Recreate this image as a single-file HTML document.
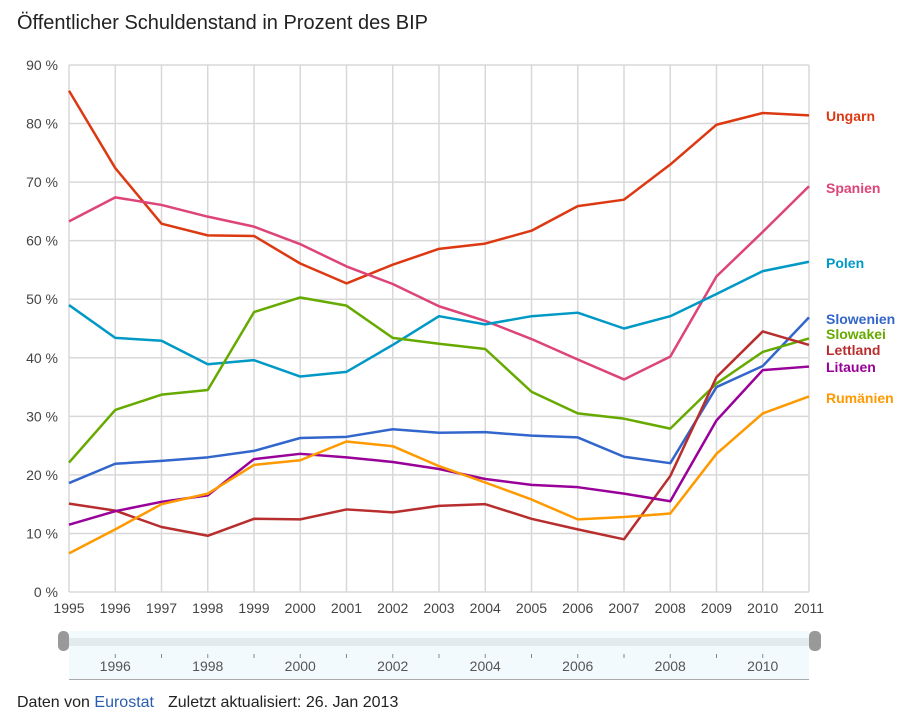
<!DOCTYPE html>
<html><head><meta charset="utf-8"><style>
body{margin:0;background:#fff;font-family:"Liberation Sans",sans-serif;}
#wrap{position:relative;width:906px;height:716px;}
</style></head><body>
<div id="wrap">
<svg id="chart" width="906" height="716" style="position:absolute;left:0;top:0">
<text x="17" y="29" font-size="20" fill="#222">Öffentlicher Schuldenstand in Prozent des BIP</text>
<g id="grid"></g><g id="lines"></g><g id="labels"></g>
<g>
<rect x="69" y="631" width="740" height="48" fill="#f3fafd"/>
<rect x="69" y="638" width="740" height="8" fill="#e2eaee"/>
<line x1="69" y1="679.5" x2="809" y2="679.5" stroke="#aaa"/>
<rect x="58" y="631" width="11" height="20" rx="5" fill="#999"/>
<rect x="809" y="631" width="12" height="20" rx="5" fill="#999"/>
<g id="slider-ticks"></g>
</g>
<text x="17" y="707" font-size="16" fill="#222">Daten von <tspan fill="#2a5db0">Eurostat</tspan><tspan dx="14">Zuletzt aktualisiert: 26. Jan 2013</tspan></text>
</svg>
</div>
<script>
const years=[1995,1996,1997,1998,1999,2000,2001,2002,2003,2004,2005,2006,2007,2008,2009,2010,2011];
const yTicks=[0,10,20,30,40,50,60,70,80,90];
const seriesNames=["Ungarn","Spanien","Polen","Slowenien","Slowakei","Lettland","Litauen","Rumänien"];
const ungarn=[85.6,72.4,62.9,60.9,60.8,56.1,52.7,55.9,58.6,59.5,61.7,65.9,67.0,73.0,79.8,81.8,81.4];
const spanien=[63.3,67.4,66.1,64.1,62.4,59.4,55.6,52.6,48.8,46.3,43.2,39.7,36.3,40.2,53.9,61.5,69.3];
const polen=[49.0,43.4,42.9,38.9,39.6,36.8,37.6,42.2,47.1,45.7,47.1,47.7,45.0,47.1,50.9,54.8,56.4];
const slowenien=[18.6,21.9,22.4,23.0,24.1,26.3,26.5,27.8,27.2,27.3,26.7,26.4,23.1,22.0,35.0,38.6,46.9];
const slowakei=[22.1,31.1,33.7,34.5,47.8,50.3,48.9,43.4,42.4,41.5,34.2,30.5,29.6,27.9,35.6,41.0,43.3];
const lettland=[15.1,13.9,11.1,9.6,12.5,12.4,14.1,13.6,14.7,15.0,12.5,10.7,9.0,19.8,36.7,44.5,42.2];
const litauen=[11.5,13.8,15.4,16.5,22.7,23.6,23.0,22.2,21.0,19.3,18.3,17.9,16.8,15.5,29.3,37.9,38.5];
const rumaenien=[6.6,10.7,15.0,16.8,21.7,22.5,25.7,24.9,21.5,18.7,15.8,12.4,12.8,13.4,23.6,30.5,33.4];
const sliderYears=[1996,1998,2000,2002,2004,2006,2008,2010];

const NS="http://www.w3.org/2000/svg";
const X0=69,X1=809,Y0=592,Y1=65;
const xs=y=>X0+(y-years[0])/(years[years.length-1]-years[0])*(X1-X0);
const ys=v=>Y0-v/90*(Y0-Y1);
function mk(t,a,p){const e=document.createElementNS(NS,t);for(const k in a)e.setAttribute(k,a[k]);p.appendChild(e);return e;}
const grid=document.getElementById('grid');
yTicks.forEach(v=>{
 const l=mk('line',{x1:X0,x2:X1,y1:ys(v),y2:ys(v),stroke:'#d8d8d8','stroke-width':1.5},grid);
 
 
 const t=mk('text',{x:58,y:ys(v)+5,'font-size':14,fill:'#444','text-anchor':'end'},grid);
 t.textContent=v+' %';
 
 
});
years.forEach(y=>{
 const l=mk('line',{x1:xs(y),x2:xs(y),y1:Y1,y2:Y0,stroke:'#d8d8d8','stroke-width':1.5},grid);
 
 
 const t=mk('text',{x:xs(y),y:613,'font-size':14,fill:'#444','text-anchor':'middle'},grid);
 t.textContent=y;
 
 
});
const data=[ungarn,spanien,polen,slowenien,slowakei,lettland,litauen,rumaenien];
const colors=["#dc3912","#dd4477","#0099c6","#3366cc","#66aa00","#b82e2e","#990099","#ff9900"];
const labelY=[116,188,263,319,334,350,367,398];
const lines=document.getElementById('lines'),labels=document.getElementById('labels');
data.forEach((d,i)=>{
 const p=mk('polyline',{points:d.map((v,j)=>xs(years[j])+','+ys(v)).join(' '),fill:'none',stroke:colors[i],'stroke-width':2.5,'stroke-linejoin':'round'},lines);
 
 
 const t=mk('text',{x:826,y:labelY[i]+5,'font-size':14,'font-weight':'bold',fill:colors[i]},labels);
 t.textContent=seriesNames[i];
 
 
});
const st=document.getElementById('slider-ticks');
years.forEach((y,j)=>{
 if(j===0||j===years.length-1)return;
 const l=mk('line',{x1:xs(y),x2:xs(y),y1:654,y2:658,stroke:'#888'},st);
 
 
});
sliderYears.forEach(y=>{
 const t=mk('text',{x:xs(y),y:671,'font-size':14,fill:'#555','text-anchor':'middle'},st);
 t.textContent=y;
 
 
});
</script>
</body></html>
